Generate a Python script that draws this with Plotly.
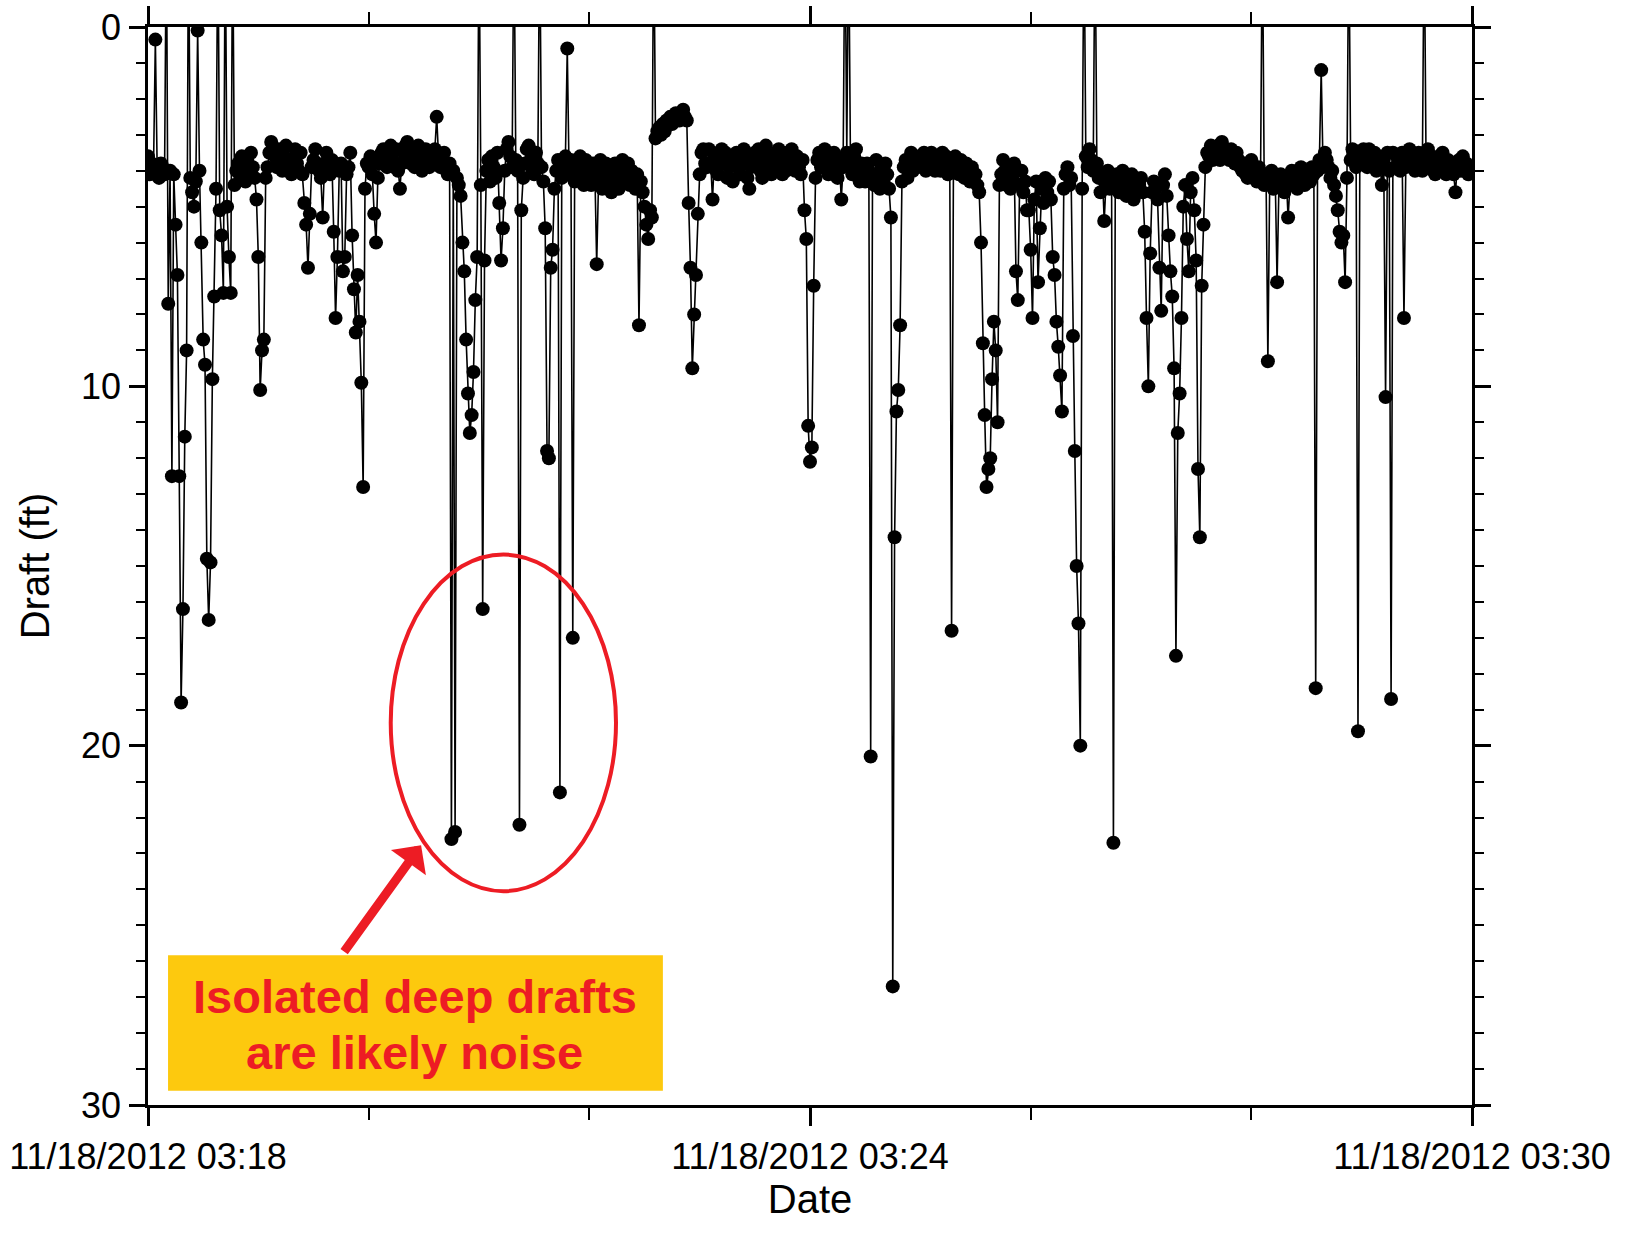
import pandas as pd
import plotly.graph_objects as go

# ---------------- data (draft in ft, one sample per second, from 03:18:00) ----------------
START_TIME = "2012-11-18 03:18:00"
SAMPLE_PERIOD = "1s"

draft_0318 = [3.6, 4.1, 3.8, 3.9, 0.35, 4.0, 4.2, 3.8, 3.9, 4.1,
              -3.0, 7.7, 4.0, 12.5, 4.1, 5.5, 6.9, 12.5, 18.8, 16.2,
              11.4, 9.0, -3.0, 4.2, 4.6, 5.0, 4.3, 0.1, 4.0, 6.0,
              8.7, 9.4, 14.8, 16.5, 14.9, 9.8, 7.5, 4.5, -3.0, 5.1,
              5.8, 7.4, -3.0, 5.0, 6.4, 7.4, -3.0, 4.4, 4.0, 3.8,
              4.1, 3.6, 3.9, 4.3, 3.7, 4.0, 3.5, 3.9, 4.2, 4.8]
draft_0319 = [6.4, 10.1, 9.0, 8.7, 4.2, 3.9, 3.5, 3.2, 3.4, 3.6,
              3.9, 3.4, 3.7, 4.0, 3.6, 3.3, 3.7, 3.9, 4.1, 3.7,
              3.4, 3.8, 4.0, 3.5, 4.1, 4.9, 5.5, 6.7, 5.2, 3.9,
              3.7, 3.4, 3.8, 4.0, 4.2, 5.3, 3.8, 3.5, 3.9, 4.1,
              3.7, 5.7, 8.1, 6.4, 4.0, 3.8, 6.8, 6.4, 4.1, 3.9,
              3.5, 5.8, 7.3, 8.5, 6.9, 8.2, 9.9, 12.8, 4.5, 3.8]
draft_0320 = [3.9, 3.6, 4.1, 5.2, 6.0, 4.2, 3.8, 3.5, 3.4, 3.7,
              3.9, 3.5, 3.3, 3.7, 3.9, 3.4, 4.0, 4.5, 3.8, 3.5,
              3.3, 3.2, 3.6, 3.8, 3.4, 3.9, 3.6, 3.3, 3.7, 4.0,
              3.6, 3.4, 3.7, 3.9, 3.5, 3.7, 3.4, 2.5, 3.6, 3.9,
              3.7, 3.5, 3.9, 4.1, 3.8, 22.6, 4.0, 22.4, 4.2, 4.4,
              4.7, 6.0, 6.8, 8.7, 10.2, 11.3, 10.8, 9.6, 7.6, 6.4]
draft_0321 = [-3.0, 4.4, 16.2, 6.5, 4.0, 3.7, 4.3, 3.6, 3.9, 4.2,
              3.5, 4.9, 6.5, 5.6, 4.0, 3.4, 3.2, 3.6, 3.9, -3.0,
              3.7, 4.0, 22.2, 5.1, 4.2, 3.8, 3.4, 3.3, 3.7, 4.0,
              4.1, 3.5, 3.8, -3.0, 3.9, 4.3, 5.6, 11.8, 12.0, 6.7,
              6.2, 4.5, 4.0, 3.7, 21.3, 4.2, 3.9, 3.6, 0.6, 4.1,
              3.7, 17.0, 4.3, 3.9, 4.2, 3.6, 4.0, 4.4, 3.7, 3.9]
draft_0322 = [4.2, 4.4, 3.8, 4.0, 6.6, 4.3, 3.7, 4.5, 4.1, 3.8,
              4.0, 4.4, 4.6, 4.2, 3.8, 4.1, 4.5, 4.0, 3.7, 4.3,
              4.1, 3.8, 4.4, 4.0, 4.2, 4.5, 4.1, 8.3, 4.3, 4.6,
              5.0, 5.5, 5.9, 5.1, 5.3, -3.0, 3.1, 2.9, 2.8, 3.0,
              2.7, 2.9, 2.6, 2.7, 2.5, 2.7, 2.6, 2.4, 2.5, 2.6,
              2.4, 2.3, 2.5, 2.6, 4.9, 6.7, 9.5, 8.0, 6.9, 5.2]
draft_0323 = [4.1, 3.5, 3.4, 3.8, 3.9, 3.4, 3.8, 4.8, 3.6, 4.0,
              4.1, 3.7, 3.4, 3.8, 3.5, 4.2, 3.9, 3.6, 4.3, 3.8,
              3.5, 3.9, 4.1, 3.7, 3.4, 3.8, 4.2, 4.5, 3.9, 3.6,
              3.5, 3.8, 3.4, 4.0, 4.2, 3.7, 3.3, 3.6, 3.9, 4.1,
              3.6, 3.9, 3.5, 3.4, 3.8, 4.1, 3.7, 4.0, 3.5, 3.8,
              3.4, 3.7, 4.0, 3.6, 3.9, 4.1, 3.7, 5.1, 5.9, 11.1]
draft_0324 = [12.1, 11.7, 7.2, 4.2, 3.7, 3.5, 3.9, 3.6, 3.4, 3.8,
              4.1, 3.7, 4.0, 3.5, 3.8, 4.2, 3.7, 4.8, 3.9, -3.0,
              3.5, -3.0, 3.8, 4.1, 3.6, 3.4, 3.9, 4.3, 3.8, 4.2,
              4.3, 3.8, 4.0, 20.3, 4.1, 4.4, 3.7, 4.2, 4.5, 4.0,
              4.3, 3.8, 4.1, 4.5, 5.3, 26.7, 14.2, 10.7, 10.1, 8.3,
              4.3, 3.9, 3.7, 4.2, 3.8, 3.5, 4.0, 3.6, 3.9, 3.7]
draft_0325 = [3.6, 3.9, 3.5, 4.0, 3.7, 3.9, 3.5, 3.8, 4.0, 3.6,
              3.7, 4.0, 3.5, 3.8, 3.6, 4.1, 3.7, 16.8, 3.9, 3.6,
              3.8, 4.1, 3.7, 3.9, 4.2, 3.8, 4.0, 4.3, 3.9, 4.3,
              4.1, 4.4, 4.6, 6.0, 8.8, 10.8, 12.8, 12.3, 12.0, 9.8,
              8.2, 9.0, 11.0, 4.4, 4.1, 3.7, 4.0, 4.4, 3.9, 4.5,
              4.2, 3.8, 6.8, 7.6, 4.4, 4.0, 4.6, 4.3, 5.1, 5.1]
draft_0326 = [6.2, 8.1, 4.8, 4.3, 7.1, 5.6, 4.5, 4.9, 4.2, 4.6,
              4.3, 4.8, 6.4, 6.9, 8.2, 8.9, 9.7, 10.7, 4.5, 4.1,
              3.9, 4.4, 4.2, 8.6, 11.8, 15.0, 16.6, 20.0, 4.5, -3.0,
              3.6, 3.9, 3.4, 3.7, 4.0, -3.0, 3.8, 4.2, 4.6, 4.1,
              5.4, 4.3, 4.0, 4.5, 4.2, 22.7, 4.4, 4.1, 4.6, 4.3,
              4.0, 4.4, 4.7, 4.2, 4.5, 4.1, 4.8, 4.3, 4.6, 4.4]
draft_0327 = [4.2, 4.6, 5.7, 8.1, 10.0, 6.3, 4.6, 4.3, 4.5, 4.8,
              6.7, 7.9, 4.4, 4.1, 4.7, 5.8, 6.8, 7.5, 9.5, 17.5,
              11.3, 10.2, 8.1, 5.0, 4.4, 5.9, 6.8, 4.6, 4.2, 5.1,
              6.5, 12.3, 14.2, 7.2, 5.5, 3.9, 3.5, 3.6, 3.3, 3.7,
              3.4, 3.5, 3.3, 3.7, 3.2, 3.6, 3.4, 3.5, 3.7, 3.4,
              3.6, 3.8, 3.5, 3.7, 3.9, 4.0, 3.8, 4.1, 4.2, 3.9]
draft_0328 = [3.7, 4.0, 4.2, 4.3, 3.9, 4.2, -3.0, 4.4, 4.1, 9.3,
              4.3, 4.0, 4.5, 4.2, 7.1, 4.4, 4.1, 4.3, 4.6, 4.2,
              5.3, 4.4, 4.0, 4.3, 4.1, 4.5, 4.2, 3.9, 4.1, 4.4,
              4.0, 4.2, 4.3, 3.9, 4.1, 18.4, 4.0, 3.7, 1.2, 3.9,
              3.5, 3.7, 3.9, 4.2, 4.0, 4.4, 4.7, 5.1, 5.7, 6.0,
              5.8, 7.1, 4.2, -3.0, 3.7, 3.4, 3.6, 3.9, 19.6, 3.6]
draft_0329 = [3.8, 3.4, 3.6, 3.9, 3.4, 3.7, 3.8, 3.5, 4.0, 3.6,
              3.9, 4.4, 3.7, 10.3, 3.5, 4.0, 18.7, 3.5, 3.9, 3.6,
              3.7, 4.0, 3.5, 8.1, 3.9, 3.7, 3.4, 3.8, 3.6, 4.0,
              3.7, 3.5, 3.9, 4.0, -3.0, 3.7, 3.4, 3.8, 3.6, 4.0,
              4.1, 3.8, 3.6, 3.9, 3.5, 3.8, 4.1, 3.7, 3.9, 3.8,
              4.1, 4.6, 3.9, 3.7, 4.0, 3.6, 3.9, 3.8, 4.1, 3.9]

x_range = ["2012-11-18 03:18:00", "2012-11-18 03:30:00"]
y_range = [30, 0]

# ---------------- assemble ----------------
draft = (draft_0318 + draft_0319 + draft_0320 + draft_0321 + draft_0322 + draft_0323 +
         draft_0324 + draft_0325 + draft_0326 + draft_0327 + draft_0328 + draft_0329)
times = pd.date_range(START_TIME, periods=len(draft), freq=SAMPLE_PERIOD)

RED = "#ED1C24"
YELLOW = "#FDC90E"
FONT = "Liberation Sans, Arial, sans-serif"

fig = go.Figure()
fig.add_trace(go.Scatter(
    x=times, y=draft, mode="lines+markers",
    line=dict(color="black", width=1.6),
    marker=dict(color="black", size=14),
    showlegend=False,
))

# red ellipse around the isolated deep drafts
fig.add_shape(type="circle", xref="x", yref="y",
              x0="2012-11-18 03:20:12", x1="2012-11-18 03:22:14.5",
              y0=14.68, y1=24.05,
              line=dict(color=RED, width=4), layer="above")

# yellow label box
fig.add_shape(type="rect", xref="x", yref="y",
              x0="2012-11-18 03:18:10.9", x1="2012-11-18 03:22:40",
              y0=25.83, y1=29.6,
              fillcolor=YELLOW, line=dict(width=0), layer="above")

for txt, yv in [("Isolated deep drafts", 26.97), ("are likely noise", 28.55)]:
    fig.add_annotation(x="2012-11-18 03:20:25", y=yv, xref="x", yref="y",
                       text=f"<b>{txt}</b>", showarrow=False,
                       font=dict(family=FONT, size=47, color=RED),
                       xanchor="center", yanchor="middle")

# arrow pointing to the ellipse
fig.add_annotation(x="2012-11-18 03:20:28.5", y=22.77, xref="x", yref="y",
                   text="", showarrow=True, ax=-78, ay=108,
                   arrowhead=1, arrowsize=0.8, arrowwidth=9, arrowcolor=RED)

axis_common = dict(
    showline=True, linecolor="black", linewidth=2.5, mirror="allticks",
    ticks="outside", tickcolor="black", tickwidth=2.5,
    showgrid=False, zeroline=False,
    tickfont=dict(family=FONT, size=36, color="black"),
)

fig.update_xaxes(
    **axis_common,
    range=x_range, type="date",
    tick0=x_range[0], dtick=360000, ticklen=18,
    tickformat="%m/%d/%Y %H:%M",
    ticklabelstandoff=0,
    minor=dict(dtick=120000, ticklen=12, tickcolor="black", tickwidth=2, ticks="outside", showgrid=False),
    title=dict(text="Date", font=dict(family=FONT, size=40, color="black"), standoff=0),
)
fig.update_yaxes(
    **axis_common,
    range=y_range, tick0=0, dtick=10, ticklen=16,
    ticklabelstandoff=1,
    minor=dict(dtick=1, ticklen=9, tickcolor="black", tickwidth=2, ticks="outside", showgrid=False),
    title=dict(text="Draft (ft)", font=dict(family=FONT, size=40, color="black"), standoff=20),
)

fig.update_layout(
    width=1632, height=1242,
    margin=dict(l=148, r=160, t=27, b=137, autoexpand=False),
    paper_bgcolor="white", plot_bgcolor="white",
    font=dict(family=FONT, color="black"),
)

fig.write_html("out.html")
